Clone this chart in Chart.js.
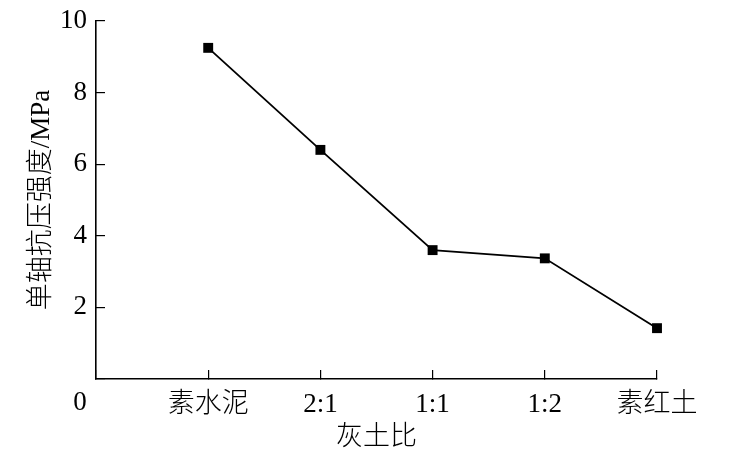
<!DOCTYPE html>
<html>
<head>
<meta charset="utf-8">
<script src="https://cdn.jsdelivr.net/npm/chart.js@4/dist/chart.umd.min.js"></script>
<style>
  html, body { margin: 0; padding: 0; background: #fff; }
  #wrap { width: 738px; height: 465px; }
</style>
</head>
<body>
<div id="wrap"><canvas id="strengthChart"></canvas></div>
<script>
// categories and measured values
var ratios    = ['素水泥', '2:1', '1:1', '1:2', '素红土'];
var positions = [1, 2, 3, 4, 5];
var strength  = [9.25, 6.40, 3.60, 3.37, 1.42];
var yTicks    = [0, 2, 4, 6, 8, 10];

var FONT = '"Liberation Serif", "Times New Roman", "Noto Sans CJK SC", serif';

var points = positions.map(function (p, i) { return { x: p, y: strength[i] }; });

// the lone "0" under the origin
var originLabel = {
  id: 'originLabel',
  afterDraw: function (chart) {
    var ctx = chart.ctx, xs = chart.scales.x;
    ctx.save();
    ctx.font = '27px ' + FONT;
    ctx.fillStyle = '#000';
    ctx.textAlign = 'center';
    ctx.textBaseline = 'middle';
    ctx.fillText('0', xs.getPixelForValue(0) - 16, xs.top + 24);
    ctx.restore();
  }
};

new Chart(document.getElementById('strengthChart'), {
  type: 'line',
  data: {
    datasets: [{
      data: points,
      borderColor: '#000',
      borderWidth: 1.8,
      backgroundColor: '#000',
      pointStyle: 'rect',
      pointRadius: 7,
      pointBackgroundColor: '#000',
      pointBorderWidth: 0,
      tension: 0,
      clip: false
    }]
  },
  options: {
    responsive: true,
    maintainAspectRatio: false,
    animation: false,
    layout: { padding: { left: 0, right: 81, top: 21, bottom: 0 } },
    plugins: { legend: { display: false }, tooltip: { enabled: false } },
    scales: {
      x: {
        type: 'linear',
        min: 0,
        max: 5,
        afterFit: function (s) { s.height = 86; s.paddingLeft = 0; s.paddingRight = 0; },
        afterBuildTicks: function (s) { s.ticks = [0].concat(positions).map(function (v) { return { value: v }; }); },
        ticks: {
          padding: 19,
          maxRotation: 0,
          autoSkip: false,
          color: '#000',
          font: { family: FONT, size: 27, weight: 300 },
          callback: function (v) { return v === 0 ? '' : ratios[v - 1]; }
        },
        grid: { drawOnChartArea: false, drawTicks: true, tickLength: -9, color: '#000', lineWidth: 1.2 },
        border: { display: true, color: '#000', width: 1.6 },
        title: {
          display: true,
          text: '灰土比',
          color: '#000',
          font: { family: FONT, size: 27, weight: 300 },
          padding: { top: 0, bottom: 11 }
        }
      },
      y: {
        min: 0,
        max: 10,
        afterFit: function (s) { s.width = 96; s.paddingTop = 0; s.paddingBottom = 0; },
        afterBuildTicks: function (s) { s.ticks = yTicks.map(function (v) { return { value: v }; }); },
        ticks: {
          padding: 18,
          color: '#000',
          font: { family: FONT, size: 27 },
          callback: function (v) { return v === 0 ? '' : v; }
        },
        grid: { drawOnChartArea: false, drawTicks: true, tickLength: -9, color: '#000', lineWidth: 1.2 },
        border: { display: true, color: '#000', width: 1.6 },
        title: {
          display: true,
          text: '单轴抗压强度/MPa',
          color: '#000',
          font: { family: FONT, size: 27, weight: 300 },
          padding: { top: 26, bottom: 0 }
        }
      }
    }
  },
  plugins: [originLabel]
});
</script>
</body>
</html>
